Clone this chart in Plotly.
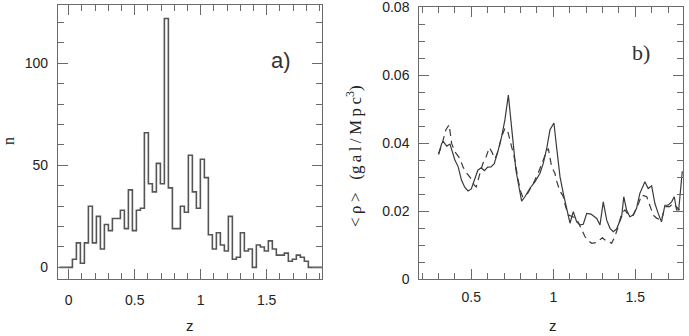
import plotly.graph_objects as go

# panel a: histogram of galaxy redshifts
bin_start = 0.028
bin_width = 0.0303
counts = [4, 12, 2, 12, 30, 12, 25, 9, 21, 18, 24, 24, 28, 19, 38, 18, 28, 29,
          66, 41, 37, 51, 41, 122, 39, 19, 19, 30, 27, 55, 37, 29, 53, 44, 16,
          9, 17, 11, 8, 25, 4, 5, 17, 8, 9, 0, 11, 10, 8, 13, 9, 6, 6, 7, 3, 4,
          6, 5, 3]

# panel b: mean density, solid and dashed estimates
z_solid = [0.30, 0.32, 0.33, 0.35, 0.37, 0.38, 0.40, 0.42, 0.44, 0.46, 0.48,
           0.50, 0.52, 0.54, 0.56, 0.58, 0.60, 0.62, 0.64, 0.66, 0.685, 0.705,
           0.726, 0.74, 0.756, 0.772, 0.787, 0.807, 0.827, 0.858, 0.888, 0.919,
           0.939, 0.96, 0.98, 1.004, 1.02, 1.041, 1.061, 1.082, 1.102, 1.122,
           1.143, 1.163, 1.183, 1.204, 1.23, 1.265, 1.285, 1.305, 1.326, 1.346,
           1.366, 1.386, 1.40, 1.417, 1.43, 1.447, 1.467, 1.488, 1.508, 1.528,
           1.559, 1.579, 1.60, 1.62, 1.64, 1.66, 1.681, 1.70, 1.722, 1.738,
           1.752, 1.765, 1.787]
rho_solid = [0.0368, 0.0400, 0.0405, 0.0392, 0.0398, 0.0382, 0.0351, 0.0331,
             0.0292, 0.0271, 0.0260, 0.0266, 0.0297, 0.0321, 0.0328, 0.0320,
             0.0330, 0.0331, 0.0340, 0.0372, 0.0420, 0.0469, 0.0542, 0.0478,
             0.0400, 0.0322, 0.0282, 0.0230, 0.0243, 0.0268, 0.0287, 0.0312,
             0.0341, 0.0385, 0.0440, 0.0460, 0.0390, 0.0302, 0.0253, 0.0204,
             0.0165, 0.0199, 0.0169, 0.0160, 0.0162, 0.0194, 0.0192, 0.0179,
             0.0160, 0.0228, 0.0174, 0.0150, 0.0140, 0.0148, 0.0165, 0.0184,
             0.0243, 0.0204, 0.0184, 0.0189, 0.0209, 0.0253, 0.0287, 0.0267,
             0.0275, 0.0223, 0.0194, 0.0169, 0.0218, 0.0218, 0.0228, 0.0243,
             0.0204, 0.0204, 0.0318]

z_dash = [0.30, 0.32, 0.345, 0.365, 0.38, 0.40, 0.43, 0.45, 0.476, 0.497,
          0.518, 0.53, 0.553, 0.57, 0.59, 0.61, 0.625, 0.645, 0.665, 0.685,
          0.705, 0.72, 0.746, 0.76, 0.787, 0.80, 0.813, 0.84, 0.878, 0.91,
          0.95, 0.97, 0.99, 1.01, 1.02, 1.04, 1.06, 1.07, 1.09, 1.12, 1.14,
          1.16, 1.173, 1.193, 1.21, 1.234, 1.26, 1.28, 1.30, 1.315, 1.34,
          1.356, 1.376, 1.396, 1.417, 1.437, 1.457, 1.488, 1.52, 1.539, 1.57,
          1.59, 1.61, 1.63, 1.66, 1.681, 1.71, 1.73, 1.752, 1.77]
rho_dash = [0.0368, 0.0395, 0.0440, 0.0455, 0.0400, 0.0375, 0.0356, 0.0330,
            0.0310, 0.0297, 0.0277, 0.0272, 0.0312, 0.0340, 0.0360, 0.0388,
            0.0375, 0.0355, 0.0380, 0.0420, 0.0444, 0.0440, 0.0390, 0.0365,
            0.0290, 0.0260, 0.0243, 0.0250, 0.0282, 0.0315, 0.0365, 0.0385,
            0.0331, 0.0312, 0.0290, 0.0260, 0.0245, 0.0223, 0.0190, 0.0185,
            0.0180, 0.0160, 0.0145, 0.0126, 0.0115, 0.0106, 0.0108, 0.0116,
            0.0122, 0.0116, 0.0110, 0.0106, 0.0126, 0.0155, 0.0194, 0.0204,
            0.0190, 0.0189, 0.0223, 0.0248, 0.0243, 0.0214, 0.0189, 0.0180,
            0.0174, 0.0214, 0.0214, 0.0223, 0.0214, 0.0204]

LINE = "#3a3a3a"
FRAME = "#6a6a6a"
SANS = "Liberation Sans, Arial, sans-serif"
SERIF = "Liberation Serif, Times New Roman, serif"
TS = "\u2009"  # thin space, mimics the spaced-out lettering of the original

edges = [bin_start + i * bin_width for i in range(len(counts) + 1)]
hist_x = [-0.07] + edges + [1.92]
hist_y = [0] + counts + [0, 0]

fig = go.Figure()
fig.add_trace(go.Scatter(x=hist_x, y=hist_y, mode="lines", line_shape="hv",
                         line=dict(color="#555555", width=1.6),
                         xaxis="x", yaxis="y", showlegend=False))
fig.add_trace(go.Scatter(x=z_solid, y=rho_solid, mode="lines",
                         line=dict(color=LINE, width=1.2),
                         xaxis="x2", yaxis="y2", showlegend=False))
fig.add_trace(go.Scatter(x=z_dash, y=rho_dash, mode="lines",
                         line=dict(color=LINE, width=1.2, dash="7px,5px"),
                         xaxis="x2", yaxis="y2", showlegend=False))

axis_common = dict(showline=True, linecolor=FRAME, linewidth=1.2, mirror="allticks",
                   ticks="inside", ticklen=10, tickwidth=1, tickcolor=FRAME,
                   showgrid=False, zeroline=False, ticklabeloverflow="allow",
                   automargin=False,
                   tickfont=dict(family=SANS, size=14, color="#222222"))

fig.update_layout(
    width=689, height=336,
    margin=dict(l=0, r=0, t=0, b=0),
    plot_bgcolor="white", paper_bgcolor="white",
    xaxis=dict(domain=[0.0842, 0.4673], range=[-0.081, 1.919], anchor="y",
               dtick=0.5, tick0=0, ticklabelstandoff=8,
               minor=dict(dtick=0.1, ticks="inside", ticklen=6, tickcolor=FRAME),
               **axis_common),
    yaxis=dict(domain=[0.1696, 0.985], range=[-5.7, 128.6], anchor="x",
               dtick=50, tick0=0, ticklabelstandoff=6,
               minor=dict(dtick=10, ticks="inside", ticklen=6, tickcolor=FRAME),
               **axis_common),
    xaxis2=dict(domain=[0.6086, 0.9917], range=[0.183, 1.793], anchor="y2",
                dtick=0.5, tick0=0, ticklabelstandoff=5,
                minor=dict(dtick=0.1, ticks="inside", ticklen=6, tickcolor=FRAME),
                **axis_common),
    yaxis2=dict(domain=[0.1687, 0.978], range=[0, 0.08002], anchor="x2",
                tickmode="array", tickvals=[0, 0.02, 0.04, 0.06, 0.08],
                ticktext=["0", "0.02", "0.04", "0.06", "0.08"],
                ticklabelstandoff=6,
                minor=dict(dtick=0.005, ticks="inside", ticklen=6, tickcolor=FRAME),
                **axis_common),
)

rho_label = ("<" + TS + "ρ" + TS + ">" + "   (" + TS.join("gal/Mpc")
             + "<sup>3</sup>)")
annotations = [
    dict(text="a)", x=281, y=60, font=dict(family=SANS, size=22, color="#333333")),
    dict(text="b)", x=641, y=52, font=dict(family=SERIF, size=22, color="#333333")),
    dict(text="z", x=190, y=325, font=dict(family=SANS, size=15, color="#222222")),
    dict(text="z", x=553, y=325, font=dict(family=SANS, size=15, color="#222222")),
    dict(text="n", x=8, y=141, textangle=-90,
         font=dict(family=SERIF, size=16, color="#222222")),
    dict(text=rho_label, x=354, y=156, textangle=-90,
         font=dict(family=SERIF, size=17, color="#222222")),
]
for a in annotations:
    fig.add_annotation(text=a["text"], x=a["x"] / 689, y=1 - a["y"] / 336,
                       xref="paper", yref="paper", showarrow=False,
                       xanchor="center", yanchor="middle",
                       textangle=a.get("textangle", 0), font=a["font"])

# drop the browser's default body margin so the figure sits at the page corner
fig.write_html("out.html",
               config={"displayModeBar": False},
               post_script="document.body.style.margin='0';"
                           "document.body.style.overflow='hidden';")
